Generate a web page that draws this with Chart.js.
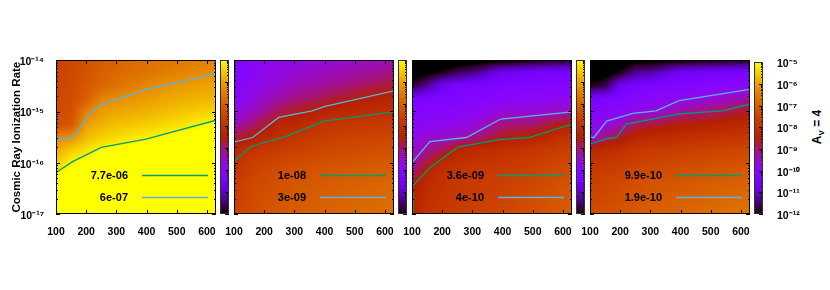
<!DOCTYPE html>
<html><head><meta charset="utf-8">
<script src="https://cdn.jsdelivr.net/npm/chart.js@4.4.1/dist/chart.umd.min.js"></script>
<style>
html,body{margin:0;padding:0;background:#fff;width:830px;height:290px;overflow:hidden;}
#wrap{position:relative;width:830px;height:290px;}
canvas{position:absolute;}
#av{position:absolute;left:818px;top:127px;transform:translate(-50%,-50%) rotate(-90deg);white-space:nowrap;font:bold 12px "Liberation Sans",Arial,sans-serif;color:#000;}
#av sub{font-size:8px;}
</style></head><body>
<div id="wrap"><div id="av">A<sub>V</sub> = 4</div></div>
<script>
// ---------- data ----------
const xTickValues = [100, 200, 300, 400, 500, 600];
const yTickValues = [1e-17, 1e-16, 1e-15, 1e-14];
const yTickLabels = ['10⁻¹⁷', '10⁻¹⁶', '10⁻¹⁵', '10⁻¹⁴'];
const cbTickValues = [1e-12, 1e-11, 1e-10, 1e-9, 1e-8, 1e-7, 1e-6, 1e-5];
const cbTickLabels = ['10⁻¹²', '10⁻¹¹', '10⁻¹⁰', '10⁻⁹', '10⁻⁸', '10⁻⁷', '10⁻⁶', '10⁻⁵'];
const yAxisTitle = 'Cosmic Ray Ionization Rate';

// heat-map grid nodes (x = column, y = log10 of ionization rate, rows top -> bottom)
const xGrid = [100, 150, 200, 250, 300, 400, 500, 630];
const yGridExp = [-14, -14.25, -14.5, -14.75, -15, -15.25, -15.5, -15.75, -16, -16.25, -16.5, -16.75, -17];

// log10 of the colour-coded quantity at each node
const heat1 = [
 [-7.6,-7.45,-7.25,-7.05,-6.9,-6.7,-6.55,-6.4],
 [-7.55,-7.4,-7.2,-6.95,-6.8,-6.6,-6.4,-6.22],
 [-7.5,-7.35,-7.1,-6.85,-6.65,-6.35,-6.1,-5.95],
 [-7.45,-7.3,-7.0,-6.4,-6.25,-6.05,-5.85,-5.7],
 [-7.4,-7.25,-6.45,-6.05,-5.95,-5.8,-5.6,-5.4],
 [-7.3,-7.1,-6.05,-5.8,-5.65,-5.5,-5.3,-5.0],
 [-6.4,-6.2,-5.7,-5.45,-5.35,-5.15,-4.95,-4.8],
 [-5.9,-5.5,-5.3,-5.05,-4.95,-4.85,-4.8,-4.7],
 [-5.5,-5.1,-4.95,-4.85,-4.8,-4.7,-4.7,-4.6],
 [-5.05,-4.9,-4.8,-4.75,-4.7,-4.6,-4.6,-4.5],
 [-4.8,-4.7,-4.7,-4.6,-4.6,-4.5,-4.5,-4.4],
 [-4.7,-4.6,-4.6,-4.5,-4.5,-4.4,-4.4,-4.3],
 [-4.6,-4.5,-4.5,-4.4,-4.4,-4.3,-4.3,-4.2]
];
const heat2 = [
 [-10.3,-10.1,-9.9,-9.8,-9.7,-9.6,-9.5,-9.4],
 [-10.2,-10.0,-9.8,-9.7,-9.6,-9.45,-9.3,-9.1],
 [-10.1,-9.9,-9.7,-9.55,-9.4,-9.2,-9.0,-8.7],
 [-10.0,-9.75,-9.5,-9.3,-9.1,-8.85,-8.55,-8.3],
 [-9.8,-9.5,-9.2,-8.85,-8.65,-8.35,-8.2,-8.02],
 [-9.4,-9.1,-8.75,-8.3,-8.25,-7.9,-7.8,-7.7],
 [-8.75,-8.58,-8.25,-8.05,-7.9,-7.65,-7.55,-7.45],
 [-8.3,-7.97,-7.8,-7.7,-7.6,-7.45,-7.35,-7.25],
 [-7.98,-7.7,-7.55,-7.45,-7.35,-7.25,-7.15,-7.05],
 [-7.8,-7.55,-7.4,-7.3,-7.2,-7.1,-7.0,-6.9],
 [-7.7,-7.45,-7.3,-7.2,-7.1,-7.0,-6.9,-6.8],
 [-7.65,-7.4,-7.25,-7.15,-7.05,-6.95,-6.85,-6.75],
 [-7.6,-7.35,-7.2,-7.1,-7.0,-6.9,-6.8,-6.7]
];
const heat3 = [
 [-12.5,-12.5,-12.4,-12.3,-12.3,-12.2,-12.0,-11.8],
 [-12.3,-12.1,-11.9,-11.6,-11.4,-10.6,-10.45,-10.35],
 [-11.8,-11.3,-10.6,-10.4,-10.3,-10.25,-10.2,-10.1],
 [-10.4,-10.3,-10.25,-10.2,-10.15,-10.0,-9.95,-9.85],
 [-10.2,-10.1,-10.05,-10.0,-9.95,-9.65,-9.6,-9.42],
 [-10.0,-9.9,-9.85,-9.8,-9.7,-9.1,-9.0,-8.45],
 [-9.8,-9.6,-9.55,-9.45,-9.2,-8.6,-8.4,-7.9],
 [-9.6,-9.2,-8.95,-8.35,-8.2,-8.0,-7.85,-7.6],
 [-9.4,-8.75,-8.2,-8.0,-7.9,-7.8,-7.65,-7.4],
 [-8.95,-8.25,-7.95,-7.85,-7.75,-7.65,-7.5,-7.25],
 [-8.5,-8.1,-7.9,-7.8,-7.7,-7.55,-7.4,-7.15],
 [-8.5,-8.0,-7.85,-7.75,-7.65,-7.5,-7.3,-7.05],
 [-8.48,-7.95,-7.8,-7.7,-7.6,-7.45,-7.25,-7.0]
];
const heat4 = [
 [-12.6,-12.5,-12.4,-12.2,-12.2,-12.1,-12.0,-11.9],
 [-12.4,-12.2,-11.9,-11.3,-11.2,-10.55,-10.45,-10.35],
 [-11.9,-11.7,-10.6,-10.4,-10.3,-10.2,-10.1,-9.95],
 [-10.4,-10.35,-10.25,-10.1,-10.0,-9.85,-9.6,-9.3],
 [-10.2,-10.1,-9.95,-9.77,-9.72,-9.25,-9.02,-8.65],
 [-10.0,-9.7,-9.45,-8.95,-8.8,-8.55,-8.4,-8.2],
 [-9.75,-9.1,-8.75,-8.3,-8.2,-8.05,-7.95,-7.8],
 [-8.3,-8.1,-8.0,-7.85,-7.75,-7.65,-7.55,-7.45],
 [-7.9,-7.8,-7.7,-7.6,-7.5,-7.4,-7.3,-7.2],
 [-7.7,-7.6,-7.5,-7.4,-7.3,-7.2,-7.1,-7.0],
 [-7.55,-7.45,-7.35,-7.25,-7.15,-7.05,-6.95,-6.85],
 [-7.45,-7.35,-7.25,-7.15,-7.05,-6.95,-6.85,-6.7],
 [-7.35,-7.25,-7.15,-7.05,-6.95,-6.85,-6.75,-6.6]
];

// contour lines
const contourLabels = [['7.7e-06', '6e-07'], ['1e-08', '3e-09'], ['3.6e-09', '4e-10'], ['9.9e-10', '1.9e-10']];
const p1GreenX = [100, 155, 250, 398, 630];
const p1GreenY = [6.46e-17, 1.05e-16, 2.0e-16, 2.88e-16, 6.76e-16];
const p1BlueX = [100, 155, 217, 250, 398, 630];
const p1BlueY = [2.75e-16, 3.09e-16, 9.77e-16, 1.38e-15, 2.69e-15, 5.5e-15];
const p2GreenX = [100, 157, 272, 398, 630];
const p2GreenY = [1.05e-16, 2.09e-16, 3.24e-16, 6.46e-16, 9.77e-16];
const p2BlueX = [100, 162, 248, 359, 398, 630];
const p2BlueY = [2.51e-16, 3.09e-16, 7.59e-16, 1.02e-15, 1.23e-15, 2.51e-15];
const p3GreenX = [104, 104, 100, 159, 252, 389, 487, 630];
const p3GreenY = [1e-17, 2.19e-17, 3.39e-17, 7.94e-17, 2.0e-16, 2.82e-16, 3.09e-16, 5.62e-16];
const p3BlueX = [100, 159, 280, 394, 630];
const p3BlueY = [1.0e-16, 2.57e-16, 3.09e-16, 7.08e-16, 9.77e-16];
const p4GreenX = [100, 155, 188, 220, 395, 538, 630];
const p4GreenY = [2.29e-16, 2.95e-16, 3.09e-16, 5.62e-16, 8.91e-16, 1.02e-15, 1.38e-15];
const p4BlueX = [100, 113, 155, 242, 319, 395, 630];
const p4BlueY = [3.09e-16, 3.09e-16, 6.46e-16, 9.12e-16, 1.02e-15, 1.62e-15, 2.69e-15];

// ---------- styling / rendering ----------
const FONT = '"Liberation Sans", Arial, sans-serif';
const GREEN = '#009e73', BLUE = '#56b4e9';
const xMin = 100, xMax = 630, yMin = 1e-17, yMax = 1e-14, cbMin = 1e-12, cbMax = 1e-5;
const wrap = document.getElementById('wrap');

function palette(lv) {
  let t = (lv - Math.log10(cbMin)) / (Math.log10(cbMax) - Math.log10(cbMin));
  t = Math.max(0, Math.min(1, t));
  const r = Math.sqrt(t), g = t * t * t, b = Math.max(0, Math.sin(2 * Math.PI * t));
  return 'rgb(' + Math.round(r * 255) + ',' + Math.round(g * 255) + ',' + Math.round(b * 255) + ')';
}

const heatPlugin = {
  id: 'heat',
  beforeDatasetsDraw(chart, args, opts) {
    const grid = opts.grid; if (!grid) return;
    const xs = chart.scales.x, ys = chart.scales.y, ctx = chart.ctx, ca = chart.chartArea;
    ctx.save();
    ctx.beginPath(); ctx.rect(ca.left, ca.top, ca.right - ca.left, ca.bottom - ca.top); ctx.clip();
    for (let j = 0; j < yGridExp.length - 1; j++) {
      const yA = ys.getPixelForValue(Math.pow(10, yGridExp[j]));
      const yB = ys.getPixelForValue(Math.pow(10, yGridExp[j + 1]));
      for (let i = 0; i < xGrid.length - 1; i++) {
        const xA = xs.getPixelForValue(xGrid[i]), xB = xs.getPixelForValue(xGrid[i + 1]);
        const v00 = grid[j][i], v01 = grid[j][i + 1], v10 = grid[j + 1][i], v11 = grid[j + 1][i + 1];
        for (let py = Math.floor(yA); py < Math.ceil(yB); py++) {
          const u = Math.min(1, Math.max(0, (py + 0.5 - yA) / (yB - yA)));
          for (let px = Math.floor(xA); px < Math.ceil(xB); px++) {
            const t = Math.min(1, Math.max(0, (px + 0.5 - xA) / (xB - xA)));
            const v = (1 - u) * ((1 - t) * v00 + t * v01) + u * ((1 - t) * v10 + t * v11);
            ctx.fillStyle = palette(v);
            ctx.fillRect(px, py, 1, 1);
          }
        }
      }
    }
    ctx.restore();
  }
};

const cbPlugin = {
  id: 'cbar',
  beforeDatasetsDraw(chart, args, opts) {
    if (!opts.on) return;
    const ys = chart.scales.y, ctx = chart.ctx, ca = chart.chartArea;
    ctx.save();
    for (let py = Math.floor(ca.top); py < Math.ceil(ca.bottom); py++) {
      const v = ys.getValueForPixel(py + 0.5);
      ctx.fillStyle = palette(Math.log10(v));
      ctx.fillRect(ca.left, py, ca.right - ca.left, 1);
    }
    ctx.restore();
  }
};

function decadeMinors(majors) {
  const out = [];
  for (let k = 0; k < majors.length - 1; k++) for (let m = 2; m <= 9; m++) out.push(m * majors[k]);
  return out;
}

const framePlugin = {
  id: 'frame',
  afterDatasetsDraw(chart, args, opts) {
    const ca = chart.chartArea, ctx = chart.ctx;
    const ys = chart.scales.y, xs = chart.scales.x;
    ctx.save();
    ctx.strokeStyle = '#000'; ctx.lineWidth = 1;
    const L = Math.round(ca.left), R = Math.round(ca.right), T = Math.round(ca.top), B = Math.round(ca.bottom);
    ctx.beginPath();
    const yMaj = opts.yMajor || [], yMin2 = decadeMinors(yMaj);
    yMaj.forEach(v => {
      const p = Math.round(ys.getPixelForValue(v)) + 0.5;
      if (opts.left) { ctx.moveTo(L, p); ctx.lineTo(L + 4, p); }
      ctx.moveTo(R, p); ctx.lineTo(R - 4, p);
    });
    yMin2.forEach(v => {
      const p = Math.round(ys.getPixelForValue(v)) + 0.5;
      if (opts.left) { ctx.moveTo(L, p); ctx.lineTo(L + 2, p); }
      ctx.moveTo(R, p); ctx.lineTo(R - 2, p);
    });
    if (opts.xMajor) {
      opts.xMajor.forEach(v => {
        const p = Math.round(xs.getPixelForValue(v)) + 0.5;
        ctx.moveTo(p, B); ctx.lineTo(p, B - 4);
        ctx.moveTo(p, T); ctx.lineTo(p, T + 4);
      });
    }
    ctx.stroke();
    ctx.strokeStyle = opts.color || '#000';
    ctx.strokeRect(L + 0.5, T + 0.5, R - L - 1, B - T - 1);
    ctx.restore();
  }
};

const keyPlugin = {
  id: 'key',
  afterDatasetsDraw(chart, args, opts) {
    if (!opts.on) return;
    const ca = chart.chartArea, ctx = chart.ctx;
    ctx.save();
    ctx.font = 'bold 11px ' + FONT;
    ctx.textAlign = 'right'; ctx.textBaseline = 'middle';
    chart.data.datasets.forEach((ds, i) => {
      const y = Math.round(ca.bottom - 39 + i * 22) + 0.5;
      ctx.fillStyle = '#000';
      ctx.fillText(ds.label, ca.left + 72, y);
      ctx.strokeStyle = ds.borderColor; ctx.lineWidth = 1.3;
      ctx.beginPath(); ctx.moveTo(ca.left + 86, y); ctx.lineTo(ca.left + 152, y); ctx.stroke();
    });
    ctx.restore();
  }
};

function makeCanvas(left, top, w, h) {
  const cv = document.createElement('canvas');
  cv.width = w; cv.height = h;
  cv.style.left = left + 'px'; cv.style.top = top + 'px';
  cv.style.width = w + 'px'; cv.style.height = h + 'px';
  wrap.appendChild(cv);
  return cv;
}

function pts(X, Y) { return X.map((x, k) => ({ x: x, y: Y[k] })); }

const tickFont = { family: FONT, size: 10.5, weight: 'bold' };

function makePanel(plotLeft, heat, labels, gX, gY, bX, bY, first) {
  const axisW = first ? 56 : 20;
  const W = axisW + 160 + 4, H = 194;
  const cv = makeCanvas(plotLeft - axisW, 50, W, H);
  new Chart(cv, {
    type: 'scatter',
    data: {
      datasets: [
        { label: labels[0], data: pts(gX, gY), showLine: true, borderColor: GREEN, borderWidth: 1.3, pointRadius: 0, fill: false, tension: 0 },
        { label: labels[1], data: pts(bX, bY), showLine: true, borderColor: BLUE, borderWidth: 1.3, pointRadius: 0, fill: false, tension: 0 }
      ]
    },
    options: {
      responsive: false, animation: false, events: [],
      layout: { padding: { top: 10, right: 4, left: 0, bottom: 0 } },
      plugins: {
        legend: { display: false }, tooltip: { enabled: false },
        heat: { grid: heat }, frame: { yMajor: yTickValues, xMajor: xTickValues, left: true }, key: { on: true }
      },
      scales: {
        x: {
          type: 'linear', min: xMin, max: xMax,
          afterFit(s) { s.height = 30; },
          afterBuildTicks(s) { s.ticks = xTickValues.map(v => ({ value: v })); },
          grid: { display: false }, border: { display: false },
          ticks: { padding: 4, font: tickFont, color: '#000', maxRotation: 0, autoSkip: false, callback: (v) => String(v) }
        },
        y: {
          type: 'logarithmic', min: yMin, max: yMax,
          afterFit(s) { s.width = axisW; },
          afterBuildTicks(s) { s.ticks = yTickValues.map(v => ({ value: v })); },
          grid: { display: false }, border: { display: false },
          ticks: { display: first, padding: 4, labelOffset: 2, font: tickFont, color: '#000', autoSkip: false, callback: (v, i) => yTickLabels[i] },
          title: { display: first, text: yAxisTitle, color: '#000', font: { family: FONT, size: 11.5, weight: 'bold' }, padding: { top: 10, bottom: 0 } }
        }
      }
    },
    plugins: [heatPlugin, framePlugin, keyPlugin]
  });
}

function makeColorbar(barLeft, withLabels) {
  const axisW = withLabels ? 45 : 0;
  const W = 9 + axisW, H = 194;
  const cv = makeCanvas(barLeft, 50, W, H);
  new Chart(cv, {
    type: 'scatter',
    data: { datasets: [] },
    options: {
      responsive: false, animation: false, events: [],
      layout: { padding: { top: 10, right: 0, left: 0, bottom: 30 } },
      plugins: { legend: { display: false }, tooltip: { enabled: false }, cbar: { on: true }, frame: { yMajor: cbTickValues, left: false, color: '#333' } },
      scales: {
        x: { type: 'linear', min: 0, max: 1, display: false },
        y: {
          type: 'logarithmic', position: 'right', min: cbMin, max: cbMax,
          afterFit(s) { s.width = axisW; },
          afterBuildTicks(s) { s.ticks = cbTickValues.map(v => ({ value: v })); },
          grid: { display: false }, border: { display: false },
          ticks: { display: withLabels, padding: 6, labelOffset: 2, font: tickFont, color: '#000', autoSkip: false, callback: (v, i) => cbTickLabels[i] }
        }
      }
    },
    plugins: [cbPlugin, framePlugin]
  });
}

const panelLefts = [56, 234, 412, 590];
makePanel(panelLefts[0], heat1, contourLabels[0], p1GreenX, p1GreenY, p1BlueX, p1BlueY, true);
makePanel(panelLefts[1], heat2, contourLabels[1], p2GreenX, p2GreenY, p2BlueX, p2BlueY, false);
makePanel(panelLefts[2], heat3, contourLabels[2], p3GreenX, p3GreenY, p3BlueX, p3BlueY, false);
makePanel(panelLefts[3], heat4, contourLabels[3], p4GreenX, p4GreenY, p4BlueX, p4BlueY, false);
panelLefts.forEach((pl, k) => makeColorbar(pl + 164, k === 3));
</script>
</body></html>
